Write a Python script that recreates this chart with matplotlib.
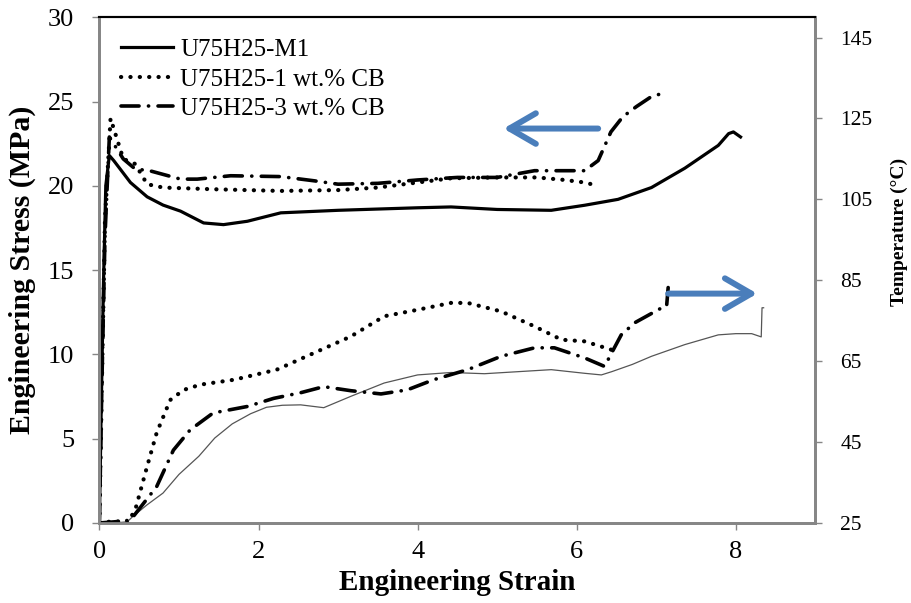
import matplotlib
matplotlib.use("Agg")
import matplotlib.pyplot as plt

plt.rcParams["font.family"] = ["Liberation Serif", "DejaVu Serif"]

# stress curves (left axis)
strain_m1 = [0, 0.02, 0.05, 0.08, 0.125, 0.18, 0.39, 0.6, 0.8, 1.02, 1.31, 1.56, 1.86, 2.28,
             3.0, 4.0, 4.42, 5.0, 5.68, 6.1, 6.52, 6.94, 7.36, 7.78, 7.91, 7.97, 8.06]
stress_m1 = [0, 6, 14, 20, 21.8, 21.5, 20.2, 19.35, 18.86, 18.5, 17.8, 17.7, 17.9, 18.4,
             18.55, 18.7, 18.75, 18.6, 18.55, 18.85, 19.2, 19.9, 21.05, 22.4, 23.1, 23.2, 22.9]

strain_cb1 = [0, 0.03, 0.07, 0.14, 0.3, 0.45, 0.6, 0.8, 1.43, 2.28, 3.0, 3.5, 4.0, 4.42,
              5.0, 5.5, 5.85, 6.1, 6.27]
stress_cb1 = [0, 8, 18, 24.0, 21.6, 21.3, 20.1, 19.9, 19.8, 19.7, 19.75, 19.9, 20.2, 20.45,
              20.5, 20.5, 20.35, 20.2, 20.0]

strain_cb3 = [0, 0.03, 0.07, 0.125, 0.3, 0.45, 0.63, 1.02, 1.23, 1.65, 2.28, 2.7, 3.0, 3.5,
              4.0, 4.5, 5.0, 5.47, 6.1, 6.27, 6.43, 6.58, 6.75, 6.94, 7.09]
stress_cb3 = [0, 8, 17, 22.9, 21.6, 21.0, 20.9, 20.4, 20.4, 20.6, 20.55, 20.3, 20.1, 20.15,
              20.35, 20.5, 20.5, 20.9, 20.9, 21.5, 23.2, 24.1, 24.7, 25.3, 25.5]

# temperature curves (right axis)
tstrain_m1 = [0, 0.2, 0.35, 0.42, 0.6, 0.8, 1.0, 1.25, 1.45, 1.67, 1.9, 2.1, 2.3, 2.53,
              2.82, 3.16, 3.58, 4.0, 4.42, 4.84, 5.26, 5.68, 6.1, 6.31, 6.44, 6.7, 6.94,
              7.36, 7.78, 8.0, 8.2, 8.32, 8.33, 8.35]
temp_m1 = [25, 25, 25.3, 26.6, 29.5, 32.4, 37, 41.5, 46, 49.5, 52, 53.6, 54.1, 54.2,
           53.5, 56.3, 59.6, 61.6, 62.2, 61.9, 62.4, 62.9, 62.0, 61.6, 62.4, 64.2, 66.2,
           69.1, 71.5, 71.8, 71.8, 71.0, 78.2, 78.2]

tstrain_cb1 = [0, 0.2, 0.35, 0.45, 0.6, 0.72, 0.89, 1.06, 1.27, 1.69, 2.23, 2.74, 3.16,
               3.58, 4.0, 4.42, 4.63, 5.05, 5.47, 5.81, 6.1, 6.44]
temp_cb1 = [25, 25.5, 25, 28.2, 39, 47.3, 55.4, 57.9, 59.2, 60.4, 62.9, 67.4, 71.1,
            76.1, 77.7, 79.4, 79.4, 77.3, 73.6, 70.3, 69.9, 67.8]

tstrain_cb3 = [0, 0.2, 0.39, 0.72, 0.93, 1.14, 1.43, 1.86, 2.19, 2.53, 2.82, 3.16, 3.54,
               3.87, 4.2, 4.63, 5.05, 5.47, 5.72, 6.1, 6.35, 6.46, 6.56, 6.73, 7.07, 7.13, 7.15]
temp_cb3 = [25, 25.3, 25.7, 34, 43, 48, 52.2, 53.8, 55.8, 57.2, 58.7, 57.7, 56.9,
            57.9, 60.4, 62.9, 66.2, 68.3, 68.3, 65.8, 63.7, 67.8, 71.5, 74.5, 78.2, 78.5, 83.2]

labels = ["U75H25-M1", "U75H25-1 wt.% CB", "U75H25-3 wt.% CB"]

# arrows pointing to the axis each group belongs to
stress_arrow = ((6.27, 23.4), (5.08, 23.4))
temp_arrow = ((7.15, 81.7), (8.27, 81.7))

arrow_color = "#4a7ebb"
spine_gray = "#868686"
dotted = (0, (0.05, 2.2))
dashdot = (0, (5, 2.6, 0.05, 2.6))

fig = plt.figure(figsize=(9.12, 6.03), dpi=100)
ax = fig.add_axes([0.109, 0.1327, 0.785, 0.8386])
ax2 = ax.twinx()

ax.plot(strain_m1, stress_m1, color="black", lw=2.3, label=labels[0])
ax.plot(strain_cb1, stress_cb1, color="black", lw=3, linestyle=dotted,
        dash_capstyle="round", label=labels[1])
ax.plot(strain_cb3, stress_cb3, color="black", lw=2.6, linestyle=dashdot,
        dash_capstyle="round", label=labels[2])

ax2.plot(tstrain_m1, temp_m1, color="#555555", lw=0.9)
ax2.plot(tstrain_cb1, temp_cb1, color="black", lw=3, linestyle=dotted,
         dash_capstyle="round")
ax2.plot(tstrain_cb3, temp_cb3, color="black", lw=2.6, linestyle=dashdot,
         dash_capstyle="round")

ax.set_xlim(0, 9)
ax.set_ylim(0, 30)
ax2.set_ylim(25, 150)
ax.set_xticks(range(0, 9, 2))
ax.set_yticks(range(0, 31, 5))
ax2.set_yticks(range(25, 146, 20))

for a in (ax, ax2):
    for side in ("left", "bottom", "right"):
        a.spines[side].set_color(spine_gray)
        a.spines[side].set_linewidth(2)
    a.spines["top"].set_color("black")
    a.spines["top"].set_linewidth(1.5)
    a.tick_params(direction="out", length=5, width=1, color=spine_gray)

ax.tick_params(axis="y", labelsize=19, pad=13)
ax.tick_params(axis="x", labelsize=19, pad=8)
ax2.tick_params(axis="y", labelsize=15.5, pad=13)

ax.set_xlabel("Engineering Strain", fontsize=21, fontweight="bold", labelpad=4)
ax.set_ylabel("Engineering Stress (MPa)", fontsize=21.5, fontweight="bold")
ax.yaxis.set_label_coords(-0.088, 0.5)
ax2.set_ylabel("Temperature (\u00b0C)", fontsize=14, fontweight="bold")
ax2.yaxis.set_label_coords(1.105, 0.575)

for (tail, head), a in ((stress_arrow, ax), (temp_arrow, ax2)):
    a.annotate("", xy=head, xytext=tail,
               arrowprops=dict(arrowstyle="->,head_length=1.9,head_width=1.1",
                               lw=4.3, color=arrow_color, mutation_scale=10,
                               shrinkA=0, shrinkB=0, capstyle="round"))

ax.legend(loc="upper left", bbox_to_anchor=(0.0, 1.0), frameon=False, fontsize=18,
          handlelength=2.1, handletextpad=0.28, labelspacing=0.28, borderaxespad=0.45)

fig.savefig("out.png", dpi=100)
